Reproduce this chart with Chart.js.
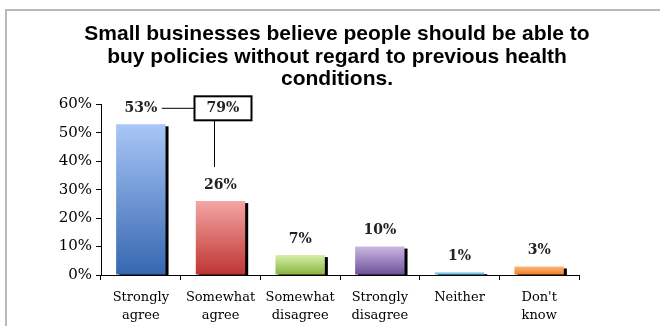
<html>
<head>
<script src="https://cdn.jsdelivr.net/npm/chart.js@4.4.1/dist/chart.umd.min.js"></script>
<style>
body { margin: 0; background: #fff; }
#wrap { position: relative; width: 660px; height: 326px; }
#frame { position: absolute; left: 5px; top: 9px; right: -2px; bottom: -2px; border: 2px solid #b8b8b8; }
#c { position: absolute; left: 0; top: 0; }
</style>
</head>
<body>
<div id="wrap">
<div id="frame"></div>
<canvas id="c" width="660" height="326"></canvas>
</div>
<script>
var titleLines = ["Small businesses believe people should be able to",
                  "buy policies without regard to previous health",
                  "conditions."]
var categories = [["Strongly", "agree"], ["Somewhat", "agree"], ["Somewhat", "disagree"],
                  ["Strongly", "disagree"], ["Neither"], ["Don't", "know"]]
var values = [53, 26, 7, 10, 1, 3]
var topColors = ["#a9c6f7", "#f5a6a4", "#d6efa6", "#cbb8e2", "#9fd8ef", "#fbb878"]
var bottomColors = ["#3567b0", "#bd3431", "#88b23c", "#6c4e99", "#4fb0d9", "#ef7a24"]
var yTicks = [0, 10, 20, 30, 40, 50, 60]

var serif = "'DejaVu Serif', serif"

function gradientFor(ctx) {
  var chart = ctx.chart
  var y = chart.scales && chart.scales.y
  if (!chart.chartArea || !y) return topColors[ctx.dataIndex]
  var top = y.getPixelForValue(values[ctx.dataIndex])
  var base = y.getPixelForValue(0)
  var g = chart.ctx.createLinearGradient(0, top, 0, base)
  g.addColorStop(0, topColors[ctx.dataIndex])
  g.addColorStop(1, bottomColors[ctx.dataIndex])
  return g
}

var shadowPlugin = {
  id: "shadow",
  beforeDatasetsDraw: function(chart) {
    var ctx = chart.ctx
    var base = chart.scales.y.getPixelForValue(0)
    ctx.save()
    ctx.fillStyle = "#000"
    chart.getDatasetMeta(0).data.forEach(function(bar) {
      var w = bar.width
      ctx.fillRect(bar.x - w / 2 + 3, bar.y + 2, w, base - bar.y - 2)
    })
    ctx.restore()
  }
}

var labelPlugin = {
  id: "labels",
  afterDatasetsDraw: function(chart) {
    var ctx = chart.ctx
    var bars = chart.getDatasetMeta(0).data
    ctx.save()
    ctx.fillStyle = "#222"
    ctx.font = "bold 14px " + serif
    ctx.textAlign = "center"
    ctx.textBaseline = "middle"
    bars.forEach(function(bar, i) {
      ctx.fillText(values[i] + "%", bar.x, bar.y - 16)
    })
    // callout: sum of the two agree answers
    var b0 = bars[0], b1 = bars[1]
    var cy = b0.y - 16
    var boxX = b1.x - 26, boxW = 57, boxH = 24
    ctx.strokeStyle = "#000"
    ctx.lineWidth = 1
    ctx.beginPath()
    ctx.moveTo(b0.x + 21, cy)
    ctx.lineTo(boxX, cy)
    ctx.moveTo(b1.x - 6, cy + boxH / 2)
    ctx.lineTo(b1.x - 6, b1.y - 34)
    ctx.stroke()
    ctx.lineWidth = 2
    ctx.fillStyle = "#fff"
    ctx.fillRect(boxX, cy - boxH / 2, boxW, boxH)
    ctx.strokeRect(boxX, cy - boxH / 2, boxW, boxH)
    ctx.fillStyle = "#222"
    ctx.fillText((values[0] + values[1]) + "%", boxX + boxW / 2, cy)
    ctx.restore()
  }
}

new Chart(document.getElementById("c"), {
  type: "bar",
  data: {
    labels: categories,
    datasets: [{
      data: values,
      backgroundColor: gradientFor,
      borderWidth: 0,
      categoryPercentage: 1.0,
      barPercentage: 0.62
    }]
  },
  plugins: [shadowPlugin, labelPlugin],
  options: {
    responsive: false,
    animation: false,
    layout: { padding: { left: 14, right: 0, top: 0, bottom: 0 } },
    plugins: {
      legend: { display: false },
      tooltip: { enabled: false },
      title: {
        display: true,
        text: titleLines,
        color: "#000",
        font: { family: "'Liberation Sans', Arial, sans-serif", size: 21, weight: "bold", lineHeight: 1.07 },
        padding: { top: 23, bottom: 14 }
      }
    },
    scales: {
      x: {
        grid: { display: true, drawOnChartArea: false, offset: true, tickLength: 5, color: "#000" },
        border: { color: "#000", width: 1 },
        ticks: { color: "#000", font: { family: serif, size: 13, lineHeight: 1.35 }, padding: 9, maxRotation: 0, autoSkip: false },
        afterFit: function(s) { s.height = 51 }
      },
      y: {
        min: 0, max: 60,
        afterBuildTicks: function(s) { s.ticks = yTicks.map(function(v) { return { value: v } }) },
        grid: { display: true, drawOnChartArea: false, tickLength: 5, color: "#000" },
        border: { color: "#000", width: 1 },
        ticks: { color: "#000", font: { family: serif, size: 15 }, padding: 4,
                 callback: function(v) { return v + "%" } },
        afterFit: function(s) { s.width = 87 }
      },
      y2: {
        position: "right",
        display: true,
        grid: { display: false },
        border: { display: false },
        ticks: { display: false },
        afterFit: function(s) { s.width = 81 }
      }
    }
  }
})
</script>
</body>
</html>
